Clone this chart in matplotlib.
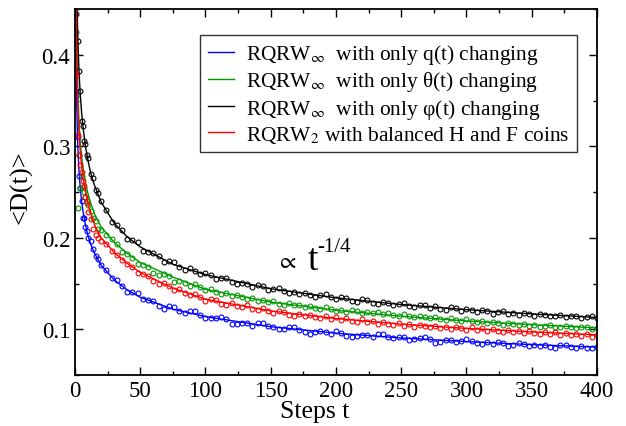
import matplotlib
matplotlib.use("Agg")
import matplotlib.pyplot as plt
from matplotlib.ticker import MultipleLocator

plt.rcParams['font.family'] = ['Liberation Serif', 'DejaVu Serif']
plt.rcParams['mathtext.fontset'] = 'stix'

# ---- data -------------------------------------------------------------
T_SC = [1, 2, 3, 4, 5, 6, 7, 8, 9, 10, 12, 14, 16, 18, 20] + list(range(24, 401, 4))

BLUE_SC = [0.355, 0.310, 0.268, 0.254, 0.240, 0.222, 0.222, 0.212, 0.207, 0.200,
           0.196, 0.188, 0.180, 0.177, 0.170,
           0.165, 0.156, 0.154, 0.147, 0.141, 0.141, 0.140, 0.133, 0.132, 0.131,
           0.125, 0.122, 0.125, 0.124, 0.120, 0.118, 0.120, 0.120, 0.116, 0.112,
           0.112, 0.112, 0.113, 0.111, 0.106, 0.106, 0.107, 0.107, 0.104, 0.107,
           0.107, 0.104, 0.103, 0.100, 0.100, 0.102, 0.102, 0.099, 0.097, 0.095,
           0.097, 0.098, 0.097, 0.095, 0.098, 0.096, 0.093, 0.092, 0.093, 0.094,
           0.094, 0.092, 0.095, 0.095, 0.092, 0.090, 0.092, 0.091, 0.088, 0.089,
           0.090, 0.091, 0.089, 0.085, 0.086, 0.088, 0.088, 0.086, 0.087, 0.089,
           0.087, 0.085, 0.084, 0.086, 0.084, 0.086, 0.085, 0.082, 0.083, 0.085,
           0.084, 0.082, 0.083, 0.082, 0.083, 0.081, 0.080, 0.083, 0.083, 0.081,
           0.080, 0.082, 0.080, 0.079, 0.081]

GREEN_SC = [0.425, 0.232, 0.290, 0.254, 0.268, 0.255, 0.250, 0.244, 0.240, 0.236,
            0.229, 0.222, 0.218, 0.210, 0.209,
            0.203, 0.199, 0.193, 0.184, 0.182, 0.178, 0.171, 0.170, 0.168, 0.162,
            0.159, 0.160, 0.158, 0.152, 0.153, 0.151, 0.147, 0.149, 0.146, 0.143,
            0.144, 0.141, 0.139, 0.140, 0.136, 0.137, 0.135, 0.133, 0.134, 0.131,
            0.132, 0.130, 0.131, 0.128, 0.127, 0.129, 0.126, 0.127, 0.124, 0.125,
            0.123, 0.122, 0.124, 0.122, 0.120, 0.121, 0.119, 0.121, 0.120, 0.118,
            0.119, 0.118, 0.119, 0.117, 0.118, 0.116, 0.115, 0.117, 0.115, 0.113,
            0.114, 0.113, 0.112, 0.113, 0.111, 0.110, 0.112, 0.110, 0.109, 0.111,
            0.109, 0.108, 0.109, 0.107, 0.108, 0.107, 0.105, 0.107, 0.106, 0.105,
            0.106, 0.104, 0.105, 0.103, 0.104, 0.105, 0.103, 0.102, 0.104, 0.102,
            0.101, 0.103, 0.102, 0.100, 0.101]

BLACK_SC = [0.445, 0.415, 0.382, 0.360, 0.328, 0.322, 0.306, 0.302, 0.290, 0.287,
            0.270, 0.265, 0.252, 0.249, 0.240,
            0.230, 0.217, 0.214, 0.209, 0.199, 0.197, 0.195, 0.186, 0.184, 0.183,
            0.180, 0.174, 0.175, 0.173, 0.168, 0.165, 0.167, 0.164, 0.160, 0.161,
            0.159, 0.155, 0.156, 0.156, 0.152, 0.150, 0.151, 0.149, 0.146, 0.148,
            0.147, 0.143, 0.144, 0.145, 0.142, 0.140, 0.141, 0.138, 0.140, 0.137,
            0.135, 0.137, 0.138, 0.135, 0.133, 0.135, 0.134, 0.131, 0.130, 0.133,
            0.132, 0.129, 0.128, 0.130, 0.129, 0.126, 0.128, 0.129, 0.125, 0.124,
            0.127, 0.126, 0.123, 0.125, 0.122, 0.121, 0.124, 0.123, 0.120, 0.122,
            0.121, 0.119, 0.121, 0.120, 0.117, 0.119, 0.120, 0.117, 0.118, 0.116,
            0.118, 0.117, 0.115, 0.117, 0.116, 0.114, 0.115, 0.116, 0.113, 0.115,
            0.114, 0.112, 0.113, 0.114, 0.112]

RED_SC = [0.378, 0.312, 0.290, 0.280, 0.272, 0.262, 0.257, 0.245, 0.238, 0.228,
          0.221, 0.210, 0.203, 0.200, 0.196,
          0.193, 0.186, 0.181, 0.176, 0.171, 0.168, 0.161, 0.160, 0.158, 0.153,
          0.150, 0.151, 0.147, 0.143, 0.144, 0.140, 0.137, 0.138, 0.135, 0.131,
          0.133, 0.132, 0.128, 0.127, 0.129, 0.125, 0.124, 0.126, 0.122, 0.121,
          0.123, 0.120, 0.118, 0.120, 0.119, 0.116, 0.115, 0.117, 0.114, 0.116,
          0.113, 0.112, 0.114, 0.111, 0.113, 0.110, 0.112, 0.109, 0.108, 0.111,
          0.108, 0.109, 0.106, 0.108, 0.106, 0.105, 0.107, 0.104, 0.106, 0.103,
          0.105, 0.104, 0.102, 0.104, 0.101, 0.103, 0.100, 0.102, 0.101, 0.099,
          0.102, 0.099, 0.101, 0.098, 0.100, 0.098, 0.097, 0.099, 0.097, 0.098,
          0.096, 0.098, 0.096, 0.095, 0.097, 0.095, 0.097, 0.094, 0.096, 0.094,
          0.095, 0.093, 0.095, 0.092, 0.094]

# fitted curves
T_FIT = [0.5, 1, 2, 3, 4, 5, 6, 8, 10, 12, 15, 20, 30, 40, 50, 75, 100,
         150, 200, 250, 300, 350, 400]
BLUE_FIT = [0.43, 0.365, 0.305, 0.274, 0.255, 0.241, 0.230, 0.214, 0.202, 0.193,
            0.183, 0.170, 0.154, 0.143, 0.135, 0.122, 0.1138,
            0.1028, 0.0957, 0.0905, 0.0865, 0.0832, 0.0805]
GREEN_FIT = [0.54, 0.45, 0.37, 0.33, 0.305, 0.290, 0.278, 0.260, 0.248, 0.238,
             0.226, 0.212, 0.195, 0.183, 0.173, 0.157, 0.1436,
             0.1297, 0.1207, 0.1142, 0.1091, 0.1050, 0.1015]
BLACK_FIT = [0.60, 0.50, 0.425, 0.384, 0.357, 0.338, 0.323, 0.300, 0.284, 0.271,
             0.257, 0.239, 0.216, 0.201, 0.190, 0.171, 0.1597,
             0.1443, 0.1343, 0.1270, 0.1214, 0.1168, 0.1129]
RED_FIT = [0.50, 0.42, 0.35, 0.315, 0.295, 0.279, 0.267, 0.250, 0.237, 0.227,
           0.214, 0.200, 0.184, 0.172, 0.162, 0.145, 0.1328,
           0.1200, 0.1117, 0.1056, 0.1009, 0.0971, 0.0939]

LABELS = [r'RQRW$_{\infty}$  with only q(t) changing',
          r'RQRW$_{\infty}$  with only θ(t) changing',
          r'RQRW$_{\infty}$  with only φ(t) changing',
          r'RQRW$_{2}$ with balanced H and F coins']
COLORS = ['#0000ff', '#009a00', '#000000', '#ff0000']

# ---- figure -----------------------------------------------------------
fig = plt.figure(figsize=(6.26, 4.27), dpi=100)
ax = fig.add_axes([75/626, 1-376/427, 522/626, 366/427])

series = [(BLUE_SC, BLUE_FIT), (GREEN_SC, GREEN_FIT),
          (BLACK_SC, BLACK_FIT), (RED_SC, RED_FIT)]
handles = []
for (sc, fit), col, lab in zip(series, COLORS, LABELS):
    ax.plot(T_SC, sc, linestyle='none', marker='o', markersize=3.5,
            markerfacecolor='none', markeredgecolor=col, markeredgewidth=0.8)
    h, = ax.plot(T_FIT, fit, color=col, linewidth=1.0, label=lab)
    handles.append(h)

ax.set_xlim(0, 400)
ax.set_ylim(0.05, 0.45)
ax.xaxis.set_major_locator(MultipleLocator(50))
ax.xaxis.set_minor_locator(MultipleLocator(25))
ax.yaxis.set_major_locator(MultipleLocator(0.1))
ax.yaxis.set_minor_locator(MultipleLocator(0.05))
ax.tick_params(which='both', direction='in', top=True, right=True,
               labelsize=16.5, width=1.0)
ax.tick_params(which='major', length=6)
ax.tick_params(which='minor', length=3)
for s in ax.spines.values():
    s.set_linewidth(1.3)

ax.set_xlabel('Steps t', fontsize=18.5)
ax.xaxis.set_label_coords(0.46, -0.068)
ax.set_ylabel('<D(t)>', fontsize=19)
ax.yaxis.set_label_coords(-0.082, 0.516)

# annotation  "∝ t^-1/4"
ax.text(154, 0.168, r'$\propto$', fontsize=17)
ax.text(178, 0.166, 't', fontsize=27)
ax.text(186, 0.185, '-1/4', fontsize=15)

leg = ax.legend(handles=handles, loc='upper right',
                bbox_to_anchor=(0.962, 0.93), fontsize=15.4,
                frameon=True, fancybox=False, edgecolor='black',
                handlelength=1.2, handletextpad=0.6, borderpad=0.35,
                labelspacing=0.15, borderaxespad=0)
leg.get_frame().set_linewidth(1.0)

fig.savefig('out.png', dpi=100)
